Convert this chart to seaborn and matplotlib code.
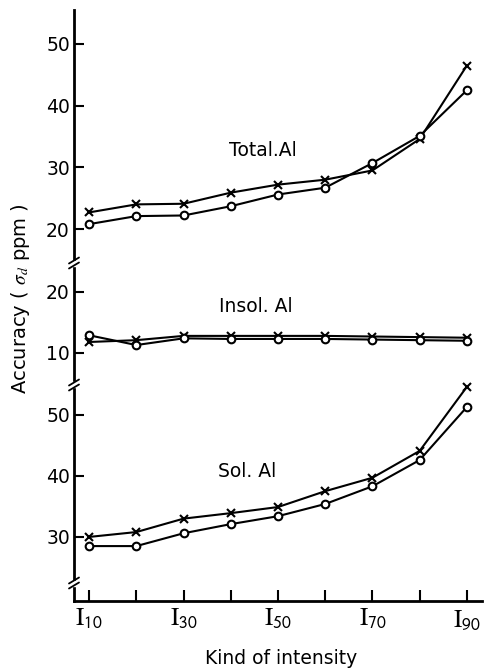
import matplotlib
matplotlib.use("Agg")
import matplotlib.pyplot as plt
import numpy as np
import pandas as pd
import seaborn as sns

# ---- data ----
intensity = [10, 20, 30, 40, 50, 60, 70, 80, 90]
tick_values = [10, 30, 50, 70, 90]
tick_labels = [r"$\mathrm{I}_{\mathsf{10}}$", r"$\mathrm{I}_{\mathsf{30}}$",
               r"$\mathrm{I}_{\mathsf{50}}$", r"$\mathrm{I}_{\mathsf{70}}$",
               r"$\mathrm{I}_{\mathsf{90}}$"]

total_x = [22.7, 24.0, 24.1, 25.9, 27.2, 28.0, 29.5, 34.6, 46.5]
total_o = [20.8, 22.1, 22.2, 23.7, 25.6, 26.7, 30.7, 35.1, 42.5]
insol_x = [11.8, 12.1, 12.8, 12.8, 12.8, 12.8, 12.7, 12.6, 12.5]
insol_o = [12.9, 11.3, 12.4, 12.3, 12.3, 12.3, 12.2, 12.1, 12.0]
sol_x = [30.0, 30.8, 33.0, 33.9, 34.9, 37.5, 39.7, 44.1, 54.6]
sol_o = [28.5, 28.5, 30.6, 32.1, 33.4, 35.4, 38.3, 42.6, 51.3]

panel_names = ["Total.Al", "Insol. Al", "Sol. Al"]
panel_ylims = [(14.5, 55.5), (4.75, 24.75), (19.5, 54.9)]
panel_yticks = [[20, 30, 40, 50], [10, 20], [30, 40, 50]]
label_pos = [(46.7, 32.8), (45.2, 17.7), (43.5, 40.7)]

rows = []
for name, xs, os_ in [("Total.Al", total_x, total_o),
                      ("Insol. Al", insol_x, insol_o),
                      ("Sol. Al", sol_x, sol_o)]:
    for i, v in zip(intensity, xs):
        rows.append(dict(panel=name, intensity=i, value=v, series="x"))
    for i, v in zip(intensity, os_):
        rows.append(dict(panel=name, intensity=i, value=v, series="o"))
df = pd.DataFrame(rows)

sns.set_theme(style="white")
plt.rcParams["font.family"] = ["DejaVu Sans"]
plt.rcParams["mathtext.fontset"] = "stix"
plt.rcParams["text.color"] = "black"
plt.rcParams["xtick.color"] = "black"
plt.rcParams["ytick.color"] = "black"
plt.rcParams["xtick.direction"] = "in"
plt.rcParams["ytick.direction"] = "in"

W, H = 490, 671
fig = plt.figure(figsize=(W / 100, H / 100), dpi=100)
gs = fig.add_gridspec(3, 1, height_ratios=[253, 122, 216], hspace=0,
                      left=74 / W, right=482 / W, top=1 - 10 / H, bottom=1 - 601 / H)
axes = [fig.add_subplot(gs[i]) for i in range(3)]

for k, ax in enumerate(axes):
    name = panel_names[k]
    sub = df[df.panel == name]
    for s, mk, ms in [("x", "x", 6), ("o", "o", 5.5)]:
        d = sub[sub.series == s]
        sns.lineplot(data=d, x="intensity", y="value", ax=ax, color="black",
                     marker=mk, markersize=ms, mfc="white", mec="black", mew=1.5,
                     linewidth=1.5, legend=False, clip_on=False, zorder=3)
    ax.set_xlim(6.8, 93.2)
    ax.set_ylim(*panel_ylims[k])
    ax.set_yticks(panel_yticks[k])
    ax.set_yticklabels([str(t) for t in panel_yticks[k]], fontsize=13.5)
    ax.tick_params(axis="y", direction="in", length=7, width=1.5, pad=3,
                   left=True, labelcolor="black")
    ax.set_xlabel("")
    ax.set_ylabel("")
    for sp in ["top", "right"]:
        ax.spines[sp].set_visible(False)
    ax.spines["left"].set_linewidth(2.0)
    ax.spines["left"].set_color("black")
    ax.set_facecolor("none")
    lx, ly = label_pos[k]
    ax.text(lx, ly, name, fontsize=13.5, ha="center", va="center", color="black")
    if k < 2:
        ax.spines["bottom"].set_visible(False)
        ax.tick_params(axis="x", bottom=False, labelbottom=False)
    else:
        ax.spines["bottom"].set_linewidth(2.0)
        ax.spines["bottom"].set_color("black")
        ax.set_xticks(tick_values)
        ax.set_xticklabels(tick_labels, fontsize=18)
        ax.set_xticks([20, 40, 60, 80], minor=True)
        ax.tick_params(axis="x", which="both", direction="in", length=8,
                       width=1.5, pad=4, bottom=True, labelcolor="black")


def px_break(y_px):
    yf = 1 - y_px / H
    xf = 74 / W
    fig.patches.append(plt.Rectangle((xf - 3 / W, yf - 2.5 / H), 6 / W, 5 / H,
                                     transform=fig.transFigure, color="white",
                                     zorder=10))
    for off in (-2.5, 2.5):
        fig.lines.append(plt.Line2D([xf - 5 / W, xf + 5 / W],
                                    [yf + (off - 3) / H, yf + (off + 3) / H],
                                    transform=fig.transFigure, color="black",
                                    lw=1.3, zorder=11))


for ypx in (263, 385, 583):
    px_break(ypx)

fig.text(21 / W, 1 - 299 / H, r"Accuracy ( $\sigma_{d}$ ppm )", rotation=90,
         fontsize=14, ha="center", va="center", color="black")
fig.text(281 / W, 1 - 658 / H, "Kind of intensity", fontsize=13.5,
         ha="center", va="center", color="black")

fig.savefig("out.png", dpi=100, facecolor="white")
